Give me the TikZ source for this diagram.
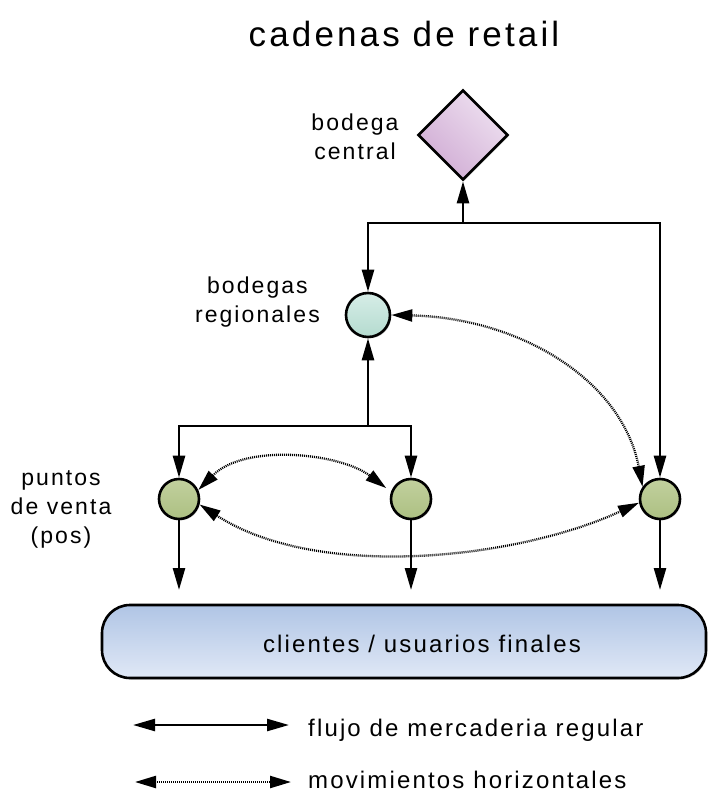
\documentclass[tikz,border=0pt]{standalone}
\usepackage{fontspec}
\setmainfont{Liberation Sans}[LetterSpace=9]
\usetikzlibrary{arrows.meta,shapes.geometric,shadows}

\definecolor{posTop}{RGB}{194,208,158}
\definecolor{posBot}{RGB}{172,192,130}
\definecolor{regTop}{RGB}{214,237,231}
\definecolor{regBot}{RGB}{180,219,207}
\definecolor{cenLight}{RGB}{238,224,240}
\definecolor{cenDark}{RGB}{208,172,212}
\definecolor{barTop}{RGB}{176,197,229}
\definecolor{barBot}{RGB}{224,232,246}

\begin{document}
\begin{tikzpicture}[x=1pt,y=-1pt,
  flow/.style={line width=2.5pt,-{Triangle[length=22pt,width=12pt]}},
  flowboth/.style={line width=2.5pt,{Triangle[length=22pt,width=12pt]}-{Triangle[length=22pt,width=12pt]}},
  horiz/.style={line width=2.3pt,black,dash pattern=on 1pt off 1pt,
    {Triangle[length=21pt,width=12pt]}-{Triangle[length=21pt,width=12pt]}},
  soft/.style={drop shadow={opacity=0.35,shadow xshift=1.2pt,shadow yshift=-1.5pt}},
  posnode/.style={circle,draw,line width=2.6pt,minimum size=40pt,inner sep=0pt,
    top color=posTop,bottom color=posBot,soft},
  regional/.style={circle,draw,line width=2.6pt,minimum size=44pt,inner sep=0pt,
    top color=regTop,bottom color=regBot,soft},
  central/.style={diamond,aspect=1,draw,line width=2.6pt,minimum width=90pt,
    minimum height=90pt,inner sep=0pt,shading=axis,top color=cenLight,
    bottom color=cenDark,shading angle=-45,soft},
  clients/.style={rounded corners=28pt,draw,line width=2.6pt,minimum width=604pt,
    minimum height=73pt,top color=barTop,bottom color=barBot,soft},
  txt/.style={align=center,font=\fontsize{23}{29}\selectfont,inner sep=0pt}]

\useasboundingbox (0,0) rectangle (708,794);

% title
\node[anchor=base,font=\fontsize{35}{40}\selectfont,inner sep=0pt] (title) at (404,47) {cadenas de retail};

% nodes
\node[central] (D) at (463,135) {};
\node[regional] (R) at (368,315) {};
\node[posnode] (P1) at (179,499) {};
\node[posnode] (P2) at (411,499) {};
\node[posnode] (P3) at (660,499) {};
\node[clients] (C) at (404,641.5) {};
\node[anchor=base,font=\fontsize{24}{28}\selectfont,inner sep=0pt] (ctext) at (422,652) {clientes / usuarios finales};

% labels
\node[txt] (lD) at (355,137) {bodega\\central};
\node[txt,anchor=east] (lR) at (320,302) {bodegas\\regionales};
\node[txt] (lP) at (61,509) {puntos\\de venta\\(pos)};

% bus junctions and free ends
\coordinate (jTop) at (463,223);
\coordinate (jMid) at (368,426);
\coordinate (e1) at (179,590);
\coordinate (e2) at (411,590);
\coordinate (e3) at (660,590);

% regular flow of goods
\draw[flow] (jTop) -- (D);
\draw[flow] (jTop) -| (R);
\draw[flow] (jTop) -| (P3);
\draw[flow] (jMid) -- (R);
\draw[flow] (jMid) -| (P1);
\draw[flow] (jMid) -| (P2);
\draw[flow] (P1) -- (e1);
\draw[flow] (P2) -- (e2);
\draw[flow] (P3) -- (e3);

% horizontal movements
\draw[horiz] (R.east) .. controls (520,318) and (622,380) .. (P3.145);
\draw[horiz,shorten >=6pt] (P1.25) .. controls (245,443) and (340,453) .. (P2.160);
\draw[horiz] (P1.345) .. controls (320,582) and (520,558) .. (P3.190);

% legend
\coordinate (a1) at (133,725);
\coordinate (b1) at (289,725);
\coordinate (a2) at (135,782);
\coordinate (b2) at (291,782);
\draw[flowboth] (a1) -- (b1);
\draw[horiz] (a2) -- (b2);
\node[anchor=base west,font=\fontsize{24}{28}\selectfont,inner sep=0pt] (leg1) at (308,736) {flujo de mercaderia regular};
\node[anchor=base west,font=\fontsize{24}{28}\selectfont,inner sep=0pt] (leg2) at (308,788) {movimientos horizontales};
\end{tikzpicture}
\end{document}
